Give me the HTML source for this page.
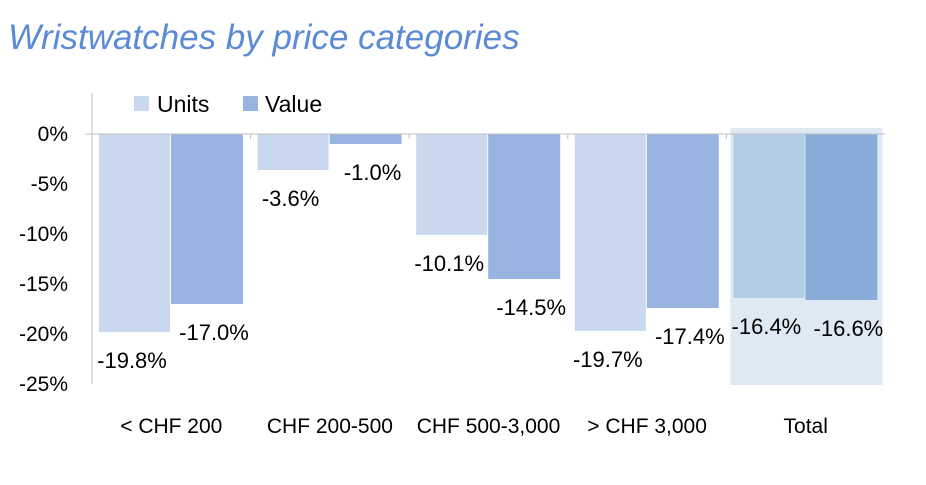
<!DOCTYPE html>
<html><head><meta charset="utf-8"><style>
body{margin:0;background:#fff;width:926px;height:480px;overflow:hidden;font-family:"Liberation Sans",sans-serif}
</style></head><body>
<svg width="926" height="480" xmlns="http://www.w3.org/2000/svg">
<text x="8" y="49" font-size="35" font-style="italic" fill="#5b8bd5">Wristwatches by price categories</text>
<g id="g"></g>
</svg>
<script>
const categories=["< CHF 200","CHF 200-500","CHF 500-3,000","> CHF 3,000","Total"];
const units=[-19.8,-3.6,-10.1,-19.7,-16.4];
const values=[-17.0,-1.0,-14.5,-17.4,-16.6];
const yTicks=[0,-5,-10,-15,-20,-25];
const NS="http://www.w3.org/2000/svg";
const g=document.getElementById('g');
const x0=92,gw=158.6,y0=134,py=10;
const Y=v=>y0-v*py;
function el(t,a,txt){const e=document.createElementNS(NS,t);for(const k in a)e.setAttribute(k,a[k]);if(txt!=null)e.textContent=txt;g.appendChild(e);return e;}
const hl=el('rect',{x:x0+4*gw+4,y:128,width:152,height:Y(-25)-128+1,fill:"#dfe9f4"});


const ya=el('line',{x1:x0,y1:93,x2:x0,y2:Y(-25),stroke:"#bfbfbf"});


yTicks.forEach(t=>{
 const tl=el('text',{x:68,y:Y(t)+7,"font-size":21,"text-anchor":"end",fill:"#000"},t+"%");
 
 
});
categories.forEach((c,i)=>{
 const gx=x0+i*gw;
 const tot=i===4;
 const u=units[i],v=values[i];
 const bu=el('rect',{x:gx+7,y:y0,width:71,height:Y(u)-y0,fill:tot?"#b5cce6":"#c9d8ef"});
 
 
 const bv=el('rect',{x:gx+79,y:y0,width:72,height:Y(v)-y0,fill:tot?"#88abda":"#98b4e0"});
 
 
 const lu=el('text',{x:gx+40,y:Y(u)+36,"font-size":22,"text-anchor":"middle"},u.toFixed(1)+"%");
 
 
 const lv=el('text',{x:gx+122,y:Y(v)+36,"font-size":22,"text-anchor":"middle"},v.toFixed(1)+"%");
 
 
 const cl=el('text',{x:gx+gw/2,y:433,"font-size":21,"text-anchor":"middle"},c);
 
 
 const tk=el('line',{x1:gx,y1:y0,x2:gx,y2:y0+5,stroke:"#bfbfbf"});
 
 
});
const xa=el('line',{x1:x0-7,y1:y0,x2:x0+5*gw,y2:y0,stroke:"#bfbfbf"});


const s1=el('rect',{x:134,y:96,width:15,height:15,fill:"#c9d8ef"});


const t1=el('text',{x:157,y:112,"font-size":23},"Units");


const s2=el('rect',{x:243,y:96,width:15,height:15,fill:"#98b4e0"});


const t2=el('text',{x:265,y:112,"font-size":23},"Value");


</script>
</body></html>
